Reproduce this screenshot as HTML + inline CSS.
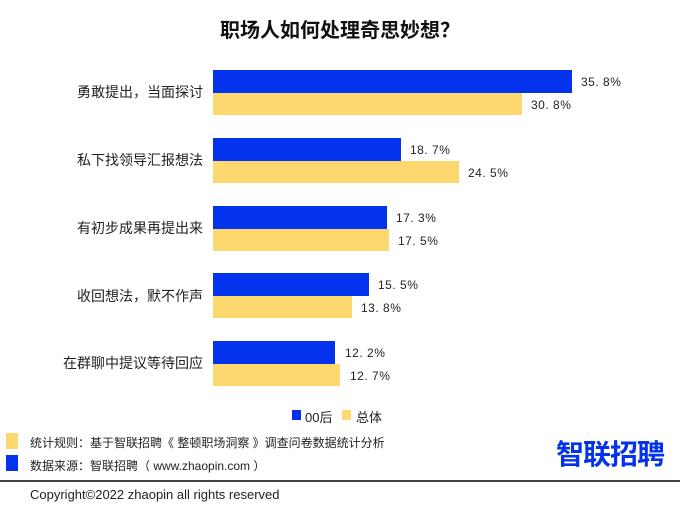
<!DOCTYPE html>
<html><head><meta charset="utf-8"><style>
body{margin:0;width:680px;height:510px;background:#fff;position:relative;overflow:hidden;font-family:"Liberation Sans","Noto Sans CJK SC",sans-serif;color:#222}
.a{position:absolute;white-space:nowrap}
.b{position:absolute;left:213px;height:23px;background:#0433EE}
.y{position:absolute;left:213px;height:22px;background:#FDD86E}
.l{position:absolute;right:477px;font-size:14px;line-height:18px}
.v{position:absolute;font-size:12px;font-family:"Liberation Sans",sans-serif;line-height:14px;letter-spacing:0.5px}
</style></head><body>
<div class="a" style="left:0;width:680px;text-align:center;top:14px;font-size:20px;font-weight:bold;color:#111">职场人如何处理奇思妙想？</div>

<div class="l" style="top:83px">勇敢提出，当面探讨</div>
<div class="b" style="top:70px;width:359px"></div><div class="y" style="top:93px;width:309px"></div>
<div class="v" style="left:581px;top:75px">35. 8%</div><div class="v" style="left:531px;top:98px">30. 8%</div>

<div class="l" style="top:151px">私下找领导汇报想法</div>
<div class="b" style="top:138px;width:188px"></div><div class="y" style="top:161px;width:246px"></div>
<div class="v" style="left:410px;top:143px">18. 7%</div><div class="v" style="left:468px;top:166px">24. 5%</div>

<div class="l" style="top:219px">有初步成果再提出来</div>
<div class="b" style="top:206px;width:174px"></div><div class="y" style="top:229px;width:176px"></div>
<div class="v" style="left:396px;top:211px">17. 3%</div><div class="v" style="left:398px;top:234px">17. 5%</div>

<div class="l" style="top:287px">收回想法，默不作声</div>
<div class="b" style="top:273px;width:156px"></div><div class="y" style="top:296px;width:139px"></div>
<div class="v" style="left:378px;top:278px">15. 5%</div><div class="v" style="left:361px;top:301px">13. 8%</div>

<div class="l" style="top:354px">在群聊中提议等待回应</div>
<div class="b" style="top:341px;width:122px"></div><div class="y" style="top:364px;width:127px"></div>
<div class="v" style="left:345px;top:346px">12. 2%</div><div class="v" style="left:350px;top:369px">12. 7%</div>

<div class="a" style="left:292px;top:410px;width:9px;height:10px;background:#0433EE"></div>
<div class="a" style="left:305px;top:407px;font-size:13px">00后</div>
<div class="a" style="left:342px;top:410px;width:9px;height:10px;background:#FDD86E"></div>
<div class="a" style="left:356px;top:407px;font-size:13px">总体</div>

<div class="a" style="left:6px;top:433px;width:12px;height:16px;background:#FDD86E"></div>
<div class="a" style="left:30px;top:434px;font-size:12px">统计规则：基于智联招聘《 整顿职场洞察 》调查问卷数据统计分析</div>
<div class="a" style="left:6px;top:455px;width:12px;height:16px;background:#0433EE"></div>
<div class="a" style="left:30px;top:457px;font-size:12px">数据来源：智联招聘（ www.zhaopin.com ）</div>
<div class="a" style="left:556px;top:433px;font-size:28px;font-weight:bold;color:#0433EE;letter-spacing:-1px">智联招聘</div>
<div class="a" style="left:0;top:480px;width:680px;height:2px;background:#444"></div>
<div class="a" style="left:30px;top:487px;font-size:13px">Copyright©2022 zhaopin all rights reserved</div>
</body></html>
